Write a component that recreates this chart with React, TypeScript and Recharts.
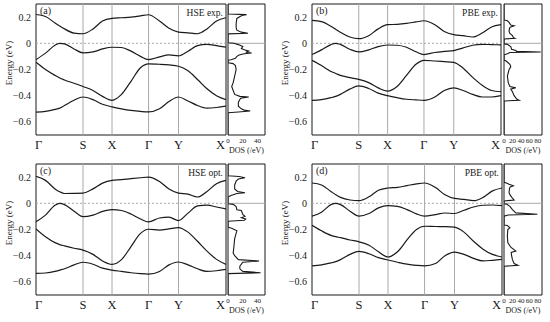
import React from "react";
import { LineChart, Line, XAxis, YAxis, ReferenceLine, ReferenceArea } from "recharts";

// k-path positions (Γ-S-X-Γ-Y-X), sampled points
const K = [0, 1, 2, 2.5, 3, 4, 4.95, 6, 7, 8, 9, 10, 11, 11.85, 13, 14, 15, 16, 17, 18, 19, 20];
const K_TICKS = [0, 4.95, 8, 11.85, 15, 20];
const K_LABELS = ["Γ", "S", "X", "Γ", "Y", "X"];
const E_TICKS = [-0.6, -0.4, -0.2, 0, 0.2];
const E_MINOR = [-0.7, -0.6, -0.5, -0.4, -0.3, -0.2, -0.1, 0, 0.1, 0.2, 0.3];

// (a) HSE exp.
const A1 = [0.22, 0.205, 0.155, 0.132, 0.11, 0.078, 0.073, 0.11, 0.17, 0.19, 0.195, 0.2, 0.21, 0.218, 0.17, 0.115, 0.086, 0.08, 0.073, 0.11, 0.17, 0.195];
const A2 = [-0.125, -0.075, -0.015, 0.0, -0.004, -0.043, -0.073, -0.066, -0.043, -0.03, -0.032, -0.06, -0.1, -0.124, -0.104, -0.089, -0.096, -0.06, -0.018, -0.008, -0.018, -0.03];
const A3 = [-0.145, -0.2, -0.245, -0.265, -0.28, -0.305, -0.33, -0.36, -0.405, -0.435, -0.39, -0.29, -0.187, -0.157, -0.16, -0.165, -0.175, -0.21, -0.276, -0.347, -0.4, -0.43];
const A4 = [-0.525, -0.52, -0.505, -0.495, -0.475, -0.435, -0.41, -0.43, -0.465, -0.485, -0.5, -0.512, -0.52, -0.524, -0.5, -0.445, -0.41, -0.44, -0.475, -0.495, -0.49, -0.48];

// (b) PBE exp.
const B1 = [0.175, 0.165, 0.13, 0.107, 0.084, 0.048, 0.035, 0.058, 0.11, 0.142, 0.145, 0.152, 0.163, 0.172, 0.142, 0.09, 0.066, 0.058, 0.048, 0.078, 0.124, 0.142];
const B2 = [-0.086, -0.05, -0.01, 0.0, -0.008, -0.045, -0.066, -0.05, -0.025, -0.013, -0.015, -0.03, -0.065, -0.086, -0.07, -0.062, -0.056, -0.035, -0.015, -0.008, -0.01, -0.012];
const B3 = [-0.13, -0.17, -0.215, -0.23, -0.245, -0.262, -0.275, -0.3, -0.34, -0.365, -0.33, -0.245, -0.16, -0.13, -0.135, -0.14, -0.145, -0.19, -0.26, -0.32, -0.36, -0.37];
const B4 = [-0.435, -0.43, -0.415, -0.405, -0.39, -0.35, -0.325, -0.345, -0.38, -0.4, -0.415, -0.427, -0.432, -0.435, -0.41, -0.36, -0.34, -0.36, -0.39, -0.41, -0.41, -0.4];

// (c) HSE opt.
const C1 = [0.205, 0.175, 0.11, 0.088, 0.075, 0.076, 0.078, 0.11, 0.154, 0.175, 0.18, 0.188, 0.195, 0.2, 0.167, 0.11, 0.078, 0.07, 0.048, 0.09, 0.15, 0.175];
const C2 = [-0.14, -0.09, -0.015, 0.0, -0.01, -0.06, -0.102, -0.09, -0.062, -0.048, -0.055, -0.082, -0.12, -0.142, -0.112, -0.106, -0.132, -0.075, -0.02, -0.014, -0.028, -0.043];
const C3 = [-0.195, -0.255, -0.3, -0.315, -0.325, -0.343, -0.357, -0.39, -0.44, -0.466, -0.43, -0.33, -0.23, -0.198, -0.205, -0.195, -0.185, -0.22, -0.29, -0.365, -0.428, -0.466];
const C4 = [-0.535, -0.532, -0.52, -0.51, -0.5, -0.47, -0.45, -0.465, -0.495, -0.51, -0.52, -0.53, -0.537, -0.54, -0.52, -0.47, -0.448, -0.47, -0.5, -0.52, -0.515, -0.505];

// (d) PBE opt.
const D1 = [0.155, 0.14, 0.09, 0.065, 0.045, 0.025, 0.02, 0.05, 0.1, 0.117, 0.122, 0.135, 0.148, 0.155, 0.12, 0.065, 0.037, 0.03, 0.02, 0.045, 0.095, 0.117];
const D2 = [-0.098, -0.068, -0.01, 0.0, -0.01, -0.06, -0.098, -0.078, -0.035, -0.018, -0.023, -0.048, -0.081, -0.098, -0.086, -0.074, -0.078, -0.053, -0.028, -0.015, -0.013, -0.018];
const D3 = [-0.167, -0.21, -0.245, -0.255, -0.262, -0.28, -0.294, -0.32, -0.37, -0.41, -0.37, -0.28, -0.2, -0.175, -0.177, -0.178, -0.182, -0.22, -0.29, -0.35, -0.39, -0.41];
const D4 = [-0.478, -0.47, -0.455, -0.445, -0.43, -0.39, -0.367, -0.385, -0.415, -0.433, -0.45, -0.465, -0.474, -0.478, -0.46, -0.4, -0.372, -0.39, -0.42, -0.44, -0.435, -0.428];

// DOS curves: [energy, dos]
const DOS_A = [[0.3, 0], [0.224, 0], [0.219, 25], [0.21, 18], [0.19, 12], [0.15, 11], [0.12, 11], [0.1, 12], [0.085, 18], [0.077, 27], [0.072, 0], [0.004, 0], [0.0, 8], [-0.01, 14], [-0.025, 20], [-0.04, 18], [-0.05, 22], [-0.06, 28], [-0.068, 24], [-0.074, 32], [-0.08, 22], [-0.09, 15], [-0.1, 12], [-0.115, 10], [-0.125, 4], [-0.13, 0], [-0.148, 0], [-0.155, 7], [-0.17, 10], [-0.2, 11], [-0.25, 9], [-0.3, 7], [-0.33, 5], [-0.36, 7], [-0.39, 9], [-0.405, 16], [-0.41, 28], [-0.42, 17], [-0.45, 14], [-0.48, 14], [-0.5, 18], [-0.51, 22], [-0.517, 30], [-0.524, 14], [-0.53, 0], [-0.7, 0]];
const DOS_B = [[0.3, 0], [0.178, 0], [0.172, 8], [0.16, 12], [0.14, 16], [0.134, 24], [0.125, 16], [0.116, 13], [0.09, 12], [0.075, 14], [0.058, 20], [0.045, 22], [0.038, 26], [0.033, 0], [-0.004, 0], [-0.008, 8], [-0.025, 16], [-0.045, 18], [-0.055, 28], [-0.062, 30], [-0.066, 87], [-0.07, 14], [-0.08, 8], [-0.087, 0], [-0.128, 0], [-0.135, 5], [-0.16, 14], [-0.18, 16], [-0.2, 12], [-0.25, 8], [-0.3, 10], [-0.33, 14], [-0.34, 28], [-0.35, 16], [-0.37, 20], [-0.4, 24], [-0.425, 30], [-0.435, 36], [-0.44, 0], [-0.7, 0]];
const DOS_C = [[0.3, 0], [0.21, 0], [0.205, 15], [0.195, 23], [0.185, 14], [0.17, 11], [0.14, 9], [0.11, 9], [0.09, 13], [0.08, 23], [0.075, 12], [0.06, 4], [0.048, 0], [-0.003, 0], [-0.008, 7], [-0.025, 11], [-0.05, 12], [-0.055, 18], [-0.085, 20], [-0.1, 23], [-0.11, 18], [-0.12, 24], [-0.13, 22], [-0.137, 0], [-0.183, 0], [-0.19, 5], [-0.21, 12], [-0.23, 11], [-0.27, 9], [-0.33, 8], [-0.38, 7], [-0.4, 9], [-0.43, 14], [-0.44, 42], [-0.45, 20], [-0.48, 16], [-0.5, 16], [-0.52, 20], [-0.53, 44], [-0.537, 0], [-0.7, 0]];
const DOS_D = [[0.3, 0], [0.16, 0], [0.155, 6], [0.145, 12], [0.134, 22], [0.125, 15], [0.116, 13], [0.08, 12], [0.06, 15], [0.04, 20], [0.025, 24], [0.018, 0], [-0.003, 0], [-0.006, 6], [-0.023, 14], [-0.048, 20], [-0.073, 28], [-0.084, 79], [-0.089, 10], [-0.098, 0], [-0.165, 0], [-0.17, 8], [-0.187, 14], [-0.2, 9], [-0.25, 8], [-0.3, 9], [-0.335, 16], [-0.365, 28], [-0.375, 17], [-0.4, 18], [-0.43, 20], [-0.46, 24], [-0.474, 33], [-0.48, 0], [-0.7, 0]];

const INK = "#1a1a1a";
const GRID = "#a8a8a8";
const SERIF = "'Liberation Serif', 'DejaVu Serif', serif";

const fmtE = (v: number) => (v === 0 ? "0" : (v < 0 ? "−" : "") + Math.abs(v).toFixed(1));

function KTick(props: any) {
  const { x, y, payload } = props;
  const i = K_TICKS.indexOf(payload.value);
  const last = i === K_TICKS.length - 1;
  const anchor = i === 0 ? "start" : last ? "end" : "middle";
  return (
    <text
      x={x + (i === 0 || last ? -1 : 0)}
      y={y}
      dy={14}
      textAnchor={anchor}
      fontSize={12.5}
      fontFamily={SERIF}
      fill={INK}
    >
      {K_LABELS[i]}
    </text>
  );
}

type PanelProps = {
  top: number;
  left: number;
  bandRight: number;
  bands: number[][];
  dos: number[][];
  dosMax: number;
  dosTicks: number[];
  tag: string;
  title: string;
};

function Panel({ top, left, bandRight, bands, dos, dosMax, dosTicks, tag, title }: PanelProps) {
  const rows = K.map((k, i) => ({ k, b1: bands[0][i], b2: bands[1][i], b3: bands[2][i], b4: bands[3][i] }));
  const dosRows = dos.map(([e, d]) => ({ e, d }));
  const plotLeft = left + 36;
  const plotRight = left + 230 - bandRight;
  return (
    <>
      <div style={{ position: "absolute", left, top, width: 230, height: 160 }}>
        <LineChart width={230} height={160} data={rows} margin={{ top: 4, right: bandRight, left: 0, bottom: 0 }}>
          <XAxis
            dataKey="k"
            type="number"
            domain={[0, 20]}
            ticks={K_TICKS}
            tick={<KTick />}
            axisLine={false}
            tickLine={false}
            tickSize={0}
            tickMargin={0}
            height={25}
            interval={0}
            allowDataOverflow
          />
          <YAxis
            type="number"
            domain={[-0.7, 0.3]}
            ticks={E_TICKS}
            tickFormatter={fmtE}
            tick={{ fontSize: 10, fill: INK, fontFamily: SERIF }}
            axisLine={false}
            tickLine={false}
            tickSize={3}
            tickMargin={2}
            width={36}
            interval={0}
            allowDataOverflow
          />
          {K_TICKS.slice(1, -1).map((k, i) => (
            <ReferenceLine key={i} x={k} stroke={GRID} strokeWidth={1} />
          ))}
          <ReferenceLine y={0} stroke={GRID} strokeDasharray="2 2" />
          {["b1", "b2", "b3", "b4"].map((key) => (
            <Line key={key} dataKey={key} type="monotone" stroke={INK} strokeWidth={1.2} dot={false} isAnimationActive={false} />
          ))}
          <ReferenceArea x1={0} x2={20} y1={-0.7} y2={0.3} fill="none" stroke={INK} strokeWidth={1} />
        </LineChart>
      </div>
      <div style={{ position: "absolute", left: left + 222, top, width: 50, height: 160 }}>
        <LineChart width={50} height={160} data={dosRows} margin={{ top: 4, right: 50 - 6 - (dosMax > 60 ? 38 : 37), left: 6, bottom: 0 }}>
          <XAxis
            dataKey="d"
            type="number"
            domain={[0, dosMax]}
            ticks={dosTicks}
            tick={{ fontSize: 7, fill: INK, fontFamily: SERIF }}
            axisLine={false}
            tickLine={false}
            tickSize={2}
            tickMargin={1}
            height={25}
            interval={0}
            allowDataOverflow
            label={{ value: "DOS (/eV)", position: "insideBottom", offset: 7, fontSize: 8, fill: INK, fontFamily: SERIF }}
          />
          <XAxis
            xAxisId="top"
            orientation="top"
            type="number"
            domain={[0, dosMax]}
            ticks={dosTicks}
            mirror
            tick={false}
            axisLine={false}
            tickLine={{ stroke: "#777" }}
            tickSize={2}
            height={0}
            allowDataOverflow
          />
          <YAxis type="number" domain={[-0.7, 0.3]} hide allowDataOverflow />
          <YAxis
            yAxisId="right"
            orientation="right"
            type="number"
            domain={[-0.7, 0.3]}
            ticks={E_MINOR}
            mirror
            tick={false}
            axisLine={false}
            tickLine={{ stroke: "#777" }}
            tickSize={2}
            width={0}
            allowDataOverflow
          />
          <ReferenceLine y={0} stroke={GRID} />
          <Line dataKey="e" type="linear" stroke={INK} strokeWidth={1.1} dot={false} isAnimationActive={false} />
          <ReferenceArea x1={0} x2={dosMax} y1={-0.7} y2={0.3} fill="none" stroke={INK} strokeWidth={1} />
        </LineChart>
      </div>
      <div
        style={{
          position: "absolute",
          left: plotLeft - 27 - 30,
          top: top + 63 - 6,
          width: 60,
          height: 12,
          fontSize: 9,
          lineHeight: "12px",
          textAlign: "center",
          color: INK,
          transform: "rotate(-90deg)",
          whiteSpace: "nowrap",
        }}
      >
        Energy (eV)
      </div>
      <div style={{ position: "absolute", left: plotLeft + 4, top: top + 6, fontSize: 10, lineHeight: "10px", color: INK }}>{tag}</div>
      <div
        style={{
          position: "absolute",
          left: plotRight - 80 - 3,
          width: 80,
          textAlign: "right",
          top: top + 8,
          fontSize: 9.5,
          lineHeight: "10px",
          color: INK,
        }}
      >
        {title}
      </div>
    </>
  );
}

export default function App() {
  return (
    <div
      style={{
        position: "absolute",
        left: 0,
        top: 0,
        width: 550,
        height: 322,
        background: "#fff",
        fontFamily: SERIF,
        overflow: "hidden",
      }}
    >
      <Panel top={0} left={0} bandRight={4} bands={[A1, A2, A3, A4]} dos={DOS_A} dosMax={50} dosTicks={[0, 20, 40]} tag="(a)" title="HSE exp." />
      <Panel top={0} left={276} bandRight={5} bands={[B1, B2, B3, B4]} dos={DOS_B} dosMax={90} dosTicks={[0, 20, 40, 60, 80]} tag="(b)" title="PBE exp." />
      <Panel top={160} left={0} bandRight={4} bands={[C1, C2, C3, C4]} dos={DOS_C} dosMax={50} dosTicks={[0, 20, 40]} tag="(c)" title="HSE opt." />
      <Panel top={160} left={276} bandRight={4} bands={[D1, D2, D3, D4]} dos={DOS_D} dosMax={90} dosTicks={[0, 20, 40, 60, 80]} tag="(d)" title="PBE opt." />
    </div>
  );
}
